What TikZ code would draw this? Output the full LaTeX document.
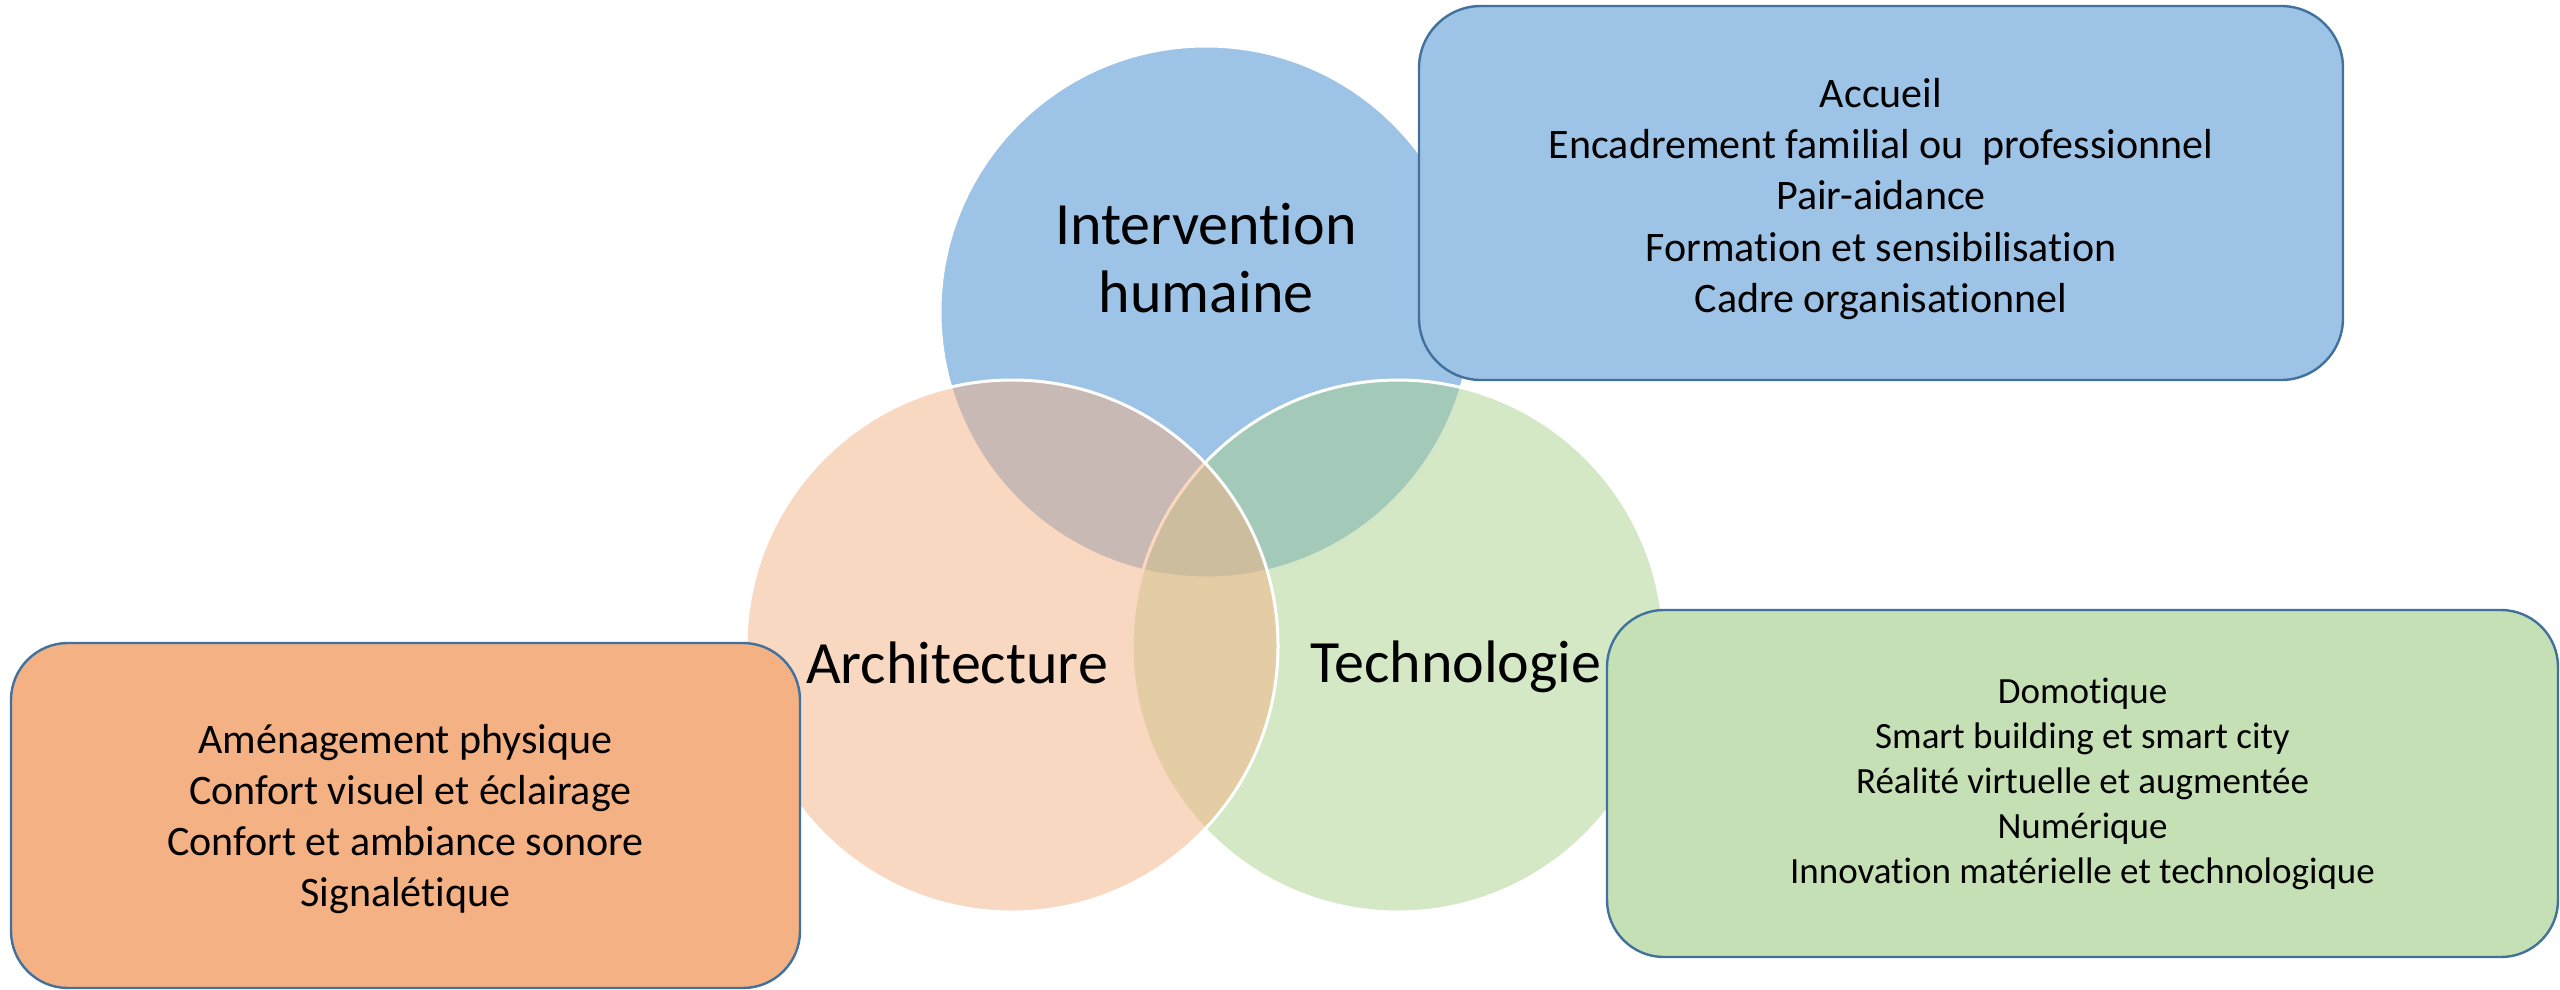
\documentclass[tikz,border=0pt]{standalone}
\usepackage{fontspec}
\setmainfont[Ligatures={NoCommon,NoRequired,NoContextual},Contextuals=NoAlternate]{Carlito}
\definecolor{cblue}{HTML}{9DC3E6}
\definecolor{corange}{HTML}{F4B183}
\definecolor{cgreen}{HTML}{A9D18E}
\definecolor{boxblue}{HTML}{9DC3E6}
\definecolor{boxorange}{HTML}{F4B183}
\definecolor{boxgreen}{HTML}{C5E0B4}
\definecolor{boxedge}{HTML}{41719C}
\begin{document}
\begin{tikzpicture}[x=0.5pt,y=-0.5pt,
  vcircle/.style={circle, minimum size=266pt, inner sep=0pt, draw=white, line width=1.5pt},
  ibox/.style={rounded corners=#1, draw=boxedge, line width=1.2pt, align=center, inner sep=0pt},
  biglabel/.style={font=\fontsize{30}{34}\selectfont, inner sep=0pt, align=center},
  boxtext/.style={font=\fontsize{21}{25.6}\selectfont},
  smalltext/.style={font=\fontsize{18.5}{22.5}\selectfont}]
\useasboundingbox (0,0) rectangle (2560,990);
% circles
\node[vcircle, fill=cblue] (ctop) at (1206,312) {};
\node[vcircle, fill=cgreen, fill opacity=0.5] (cright) at (1398,646) {};
\node[vcircle, fill=corange, fill opacity=0.5] (cleft) at (1012,646) {};
% circle labels
\node[biglabel] (ltop) at (1206,258) {Intervention\\humaine};
\node[biglabel, anchor=base] (lleft) at (957,683) {Architecture};
\node[biglabel, anchor=base west] (lright) at (1310,682) {Technologie};
% boxes
\node[ibox=31pt, fill=boxblue, minimum width=462pt, minimum height=187pt] (bblue) at (1881,193) {};
\node[boxtext, align=center, inner sep=0pt] (tblue) at (1881,199)
  {Accueil\\Encadrement familial ou~ professionnel\\Pair-aidance\\Formation et sensibilisation\\Cadre organisationnel};
\node[ibox=28.5pt, fill=boxorange, minimum width=394.5pt, minimum height=172.5pt] (borange) at (405.5,815.5) {};
\node[boxtext, align=center, inner sep=0pt] (torange) at (405.5,819)
  {Aménagement physique\\\ Confort visuel et éclairage\\Confort et ambiance sonore\\Signalétique};
\node[ibox=28.5pt, fill=boxgreen, minimum width=475.5pt, minimum height=173.5pt] (bgreen) at (2082.5,783.5) {};
\node[smalltext, align=center, inner sep=0pt] (tgreen) at (2082.5,784)
  {Domotique\\Smart building et smart city\\Réalité virtuelle et augmentée\\Numérique\\Innovation matérielle et technologique};
\end{tikzpicture}
\end{document}
